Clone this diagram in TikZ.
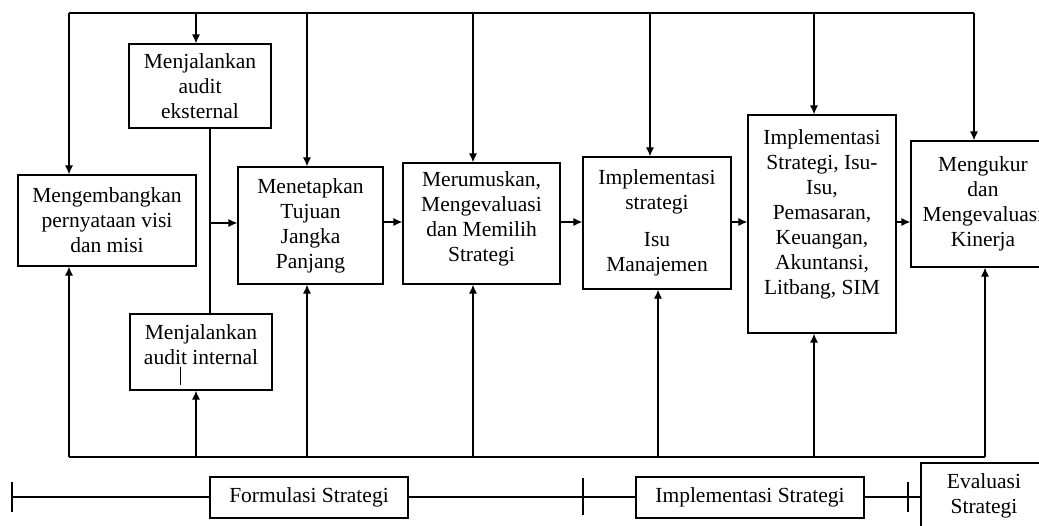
\documentclass[tikz,border=0pt]{standalone}
\usepackage{fontspec}
\setmainfont{Liberation Serif}
\usetikzlibrary{arrows.meta}

\begin{document}
\begin{tikzpicture}[x=1pt, y=-1pt, line width=1.2pt,
        box/.style={draw, align=center, inner sep=0pt, font=\fontsize{21.5}{25}\selectfont},
        arr/.style={-{Latex[length=9pt,width=8pt]}}]
    \useasboundingbox (0,0) rectangle (1039,525);
    \clip (0,0) rectangle (1039,525);

    \node[box, minimum width=142, minimum height=84] (eks) at (200,86) {Menjalankan\\audit\\eksternal};
    \node[box, minimum width=178, minimum height=91] (visi) at (107,220.5) {Mengembangkan\\pernyataan visi\\dan misi};
    \node[box, minimum width=145, minimum height=117] (tujuan) at (310.5,225.5) {Menetapkan\\Tujuan\\Jangka\\Panjang};
    \node[box, minimum width=142, minimum height=76, text depth=14pt] (intern) at (201,352) {Menjalankan\\audit internal};
    \node[box, minimum width=157, minimum height=121, text depth=14pt] (rumus) at (481.5,223.5) {Merumuskan,\\Mengevaluasi\\dan Memilih\\Strategi};
    \node[box, minimum width=148, minimum height=132] (impl) at (657,223) {Implementasi\\strategi\\[12pt]Isu\\Manajemen};
    \node[box, minimum width=148, minimum height=218, text depth=23pt] (fungsi) at (822,224) {Implementasi\\Strategi, Isu-\\Isu,\\Pemasaran,\\Keuangan,\\Akuntansi,\\Litbang, SIM};
    \node[box, minimum width=144, minimum height=126] (ukur) at (983,204) {Mengukur\\dan\\Mengevaluasi\\Kinerja};

    \node[box, minimum width=198, minimum height=41] (formulasi) at (309,497.5) {Formulasi Strategi};
    \node[box, minimum width=228, minimum height=41] (implementasi) at (750,497.5) {Implementasi Strategi};
    \node[box, minimum width=126, minimum height=66] (evaluasi) at (984,496) {Evaluasi\\Strategi};

    % garis atas
    \draw (69,13) -- (974,13);
    \draw[arr] (69,13) -- (visi.north -| 69,13);
    \draw[arr] (196,13) -- (eks.north -| 196,13);
    \draw[arr] (307,13) -- (tujuan.north -| 307,13);
    \draw[arr] (473,13) -- (rumus.north -| 473,13);
    \draw[arr] (650,13) -- (impl.north -| 650,13);
    \draw[arr] (814,13) -- (fungsi.north -| 814,13);
    \draw[arr] (974,13) -- (ukur.north -| 974,13);

    % garis bawah
    \draw (69,457) -- (985,457);
    \draw[arr] (69,457) -- (visi.south -| 69,457);
    \draw[arr] (196,457) -- (intern.south -| 196,457);
    \draw[arr] (307,457) -- (tujuan.south -| 307,457);
    \draw[arr] (473,457) -- (rumus.south -| 473,457);
    \draw[arr] (658,457) -- (impl.south -| 658,457);
    \draw[arr] (814,457) -- (fungsi.south -| 814,457);
    \draw[arr] (985,457) -- (ukur.south -| 985,457);

    % audit
    \coordinate (audit) at (210,223);
    \draw (audit |- eks.south) -- (audit |- intern.north);
    \draw[arr] (audit) -- (audit -| tujuan.west);
    \draw[line width=1pt] (180,367) -- (180,385);

    \coordinate (alur) at (0,222);
    \draw[arr] (tujuan.east |- alur) -- (rumus.west |- alur);
    \draw[arr] (rumus.east |- alur) -- (impl.west |- alur);
    \draw[arr] (impl.east |- alur) -- (fungsi.west |- alur);
    \draw[arr] (fungsi.east |- alur) -- (ukur.west |- alur);

    % tahapan
    \coordinate (awal) at (12,497);
    \coordinate (batas1) at (583,497);
    \coordinate (batas2) at (908,497);
    \draw (awal) -- (formulasi.west |- awal);
    \draw (formulasi.east |- awal) -- (implementasi.west |- awal);
    \draw (implementasi.east |- awal) -- (evaluasi.west |- awal);
    \draw (awal) ++(0,-15) -- ++(0,30);
    \draw (batas1) ++(0,-19) -- ++(0,37);
    \draw (batas2) ++(0,-15) -- ++(0,30);
\end{tikzpicture}
\end{document}
